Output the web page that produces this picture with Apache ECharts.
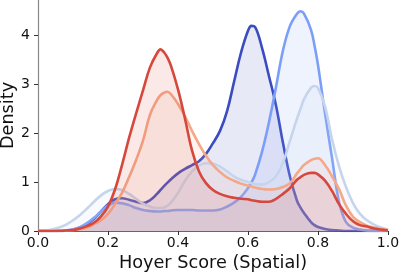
<!DOCTYPE html>
<html><head><meta charset="utf-8">
<script src="https://cdn.jsdelivr.net/npm/echarts@6/dist/echarts.min.js"></script>
<style>html,body{margin:0;padding:0;background:#fff}#c{width:399px;height:274px}</style>
</head><body><div id="c"></div>
<script>
const xs = [0,0.02,0.04,0.06,0.08,0.10,0.12,0.14,0.16,0.18,0.20,0.22,0.24,0.26,0.28,0.30,0.32,0.34,0.35,0.36,0.37,0.38,0.40,0.42,0.44,0.46,0.48,0.50,0.52,0.54,0.56,0.58,0.60,0.61,0.62,0.64,0.66,0.68,0.70,0.72,0.74,0.75,0.76,0.78,0.79,0.80,0.82,0.84,0.86,0.88,0.90,0.92,0.94,0.96,0.98,1.0];
const darkBlue  = [0,0,0,0,0.01,0.03,0.07,0.14,0.25,0.40,0.55,0.65,0.67,0.64,0.60,0.57,0.63,0.76,0.84,0.92,0.99,1.06,1.18,1.27,1.35,1.43,1.58,1.80,2.05,2.45,3.05,3.65,4.10,4.20,4.18,3.75,3.17,2.57,1.80,1.11,0.62,0.48,0.37,0.18,0.12,0.08,0.04,0.02,0.01,0,0,0,0,0,0,0];
const midBlue   = [0,0,0,0.005,0.01,0.03,0.08,0.16,0.27,0.40,0.52,0.58,0.57,0.53,0.47,0.43,0.41,0.40,0.40,0.41,0.41,0.42,0.43,0.43,0.43,0.42,0.42,0.42,0.44,0.50,0.58,0.70,0.88,1.00,1.15,1.62,2.23,2.95,3.70,4.20,4.45,4.50,4.45,4.12,3.80,3.40,2.41,1.50,0.60,0.18,0.07,0.03,0.01,0,0,0];
const lightBlue = [0,0.01,0.03,0.07,0.13,0.22,0.33,0.46,0.60,0.73,0.82,0.86,0.84,0.76,0.66,0.56,0.50,0.47,0.47,0.48,0.52,0.58,0.78,1.03,1.22,1.34,1.39,1.38,1.32,1.22,1.12,1.05,1.00,0.98,0.96,0.95,1.00,1.12,1.40,1.85,2.30,2.50,2.70,2.93,2.97,2.93,2.55,1.88,1.33,0.90,0.57,0.35,0.22,0.13,0.07,0.03];
const salmon    = [0,0,0,0.005,0.01,0.02,0.04,0.07,0.14,0.22,0.35,0.55,0.78,1.10,1.45,1.85,2.38,2.68,2.78,2.83,2.85,2.80,2.60,2.35,2.05,1.78,1.54,1.35,1.21,1.10,1.03,0.97,0.93,0.91,0.89,0.86,0.85,0.86,0.90,0.98,1.18,1.27,1.35,1.45,1.48,1.49,1.35,1.12,0.86,0.52,0.29,0.18,0.11,0.07,0.04,0.02];
const red       = [0,0,0,0,0.01,0.02,0.05,0.10,0.17,0.30,0.50,0.85,1.35,1.90,2.40,2.88,3.35,3.64,3.72,3.66,3.55,3.38,2.90,2.30,1.65,1.22,0.98,0.84,0.76,0.71,0.68,0.66,0.65,0.63,0.62,0.60,0.60,0.66,0.76,0.88,1.05,1.10,1.15,1.19,1.19,1.16,1.03,0.82,0.55,0.35,0.20,0.12,0.09,0.05,0.03,0.01];
const xTicks = [0,0.2,0.4,0.6,0.8,1.0];
const yTicks = [0,1,2,3,4];
const names = ['A','B','C','D','E'];
const colors = ['#3b4cc0','#7b9ef8','#c6d5ec','#f5a888','#d6483c'];
const allSeries = [darkBlue, midBlue, lightBlue, salmon, red];

const chart = echarts.init(document.getElementById('c'), null, {renderer:'canvas'});
const font = 'DejaVu Sans';
chart.setOption({
  animation:false,
  grid:{left:38,right:11,top:0,bottom:43,containLabel:false,outerBoundsMode:'none'},
  xAxis:{type:'value',min:0,max:1,interval:0.2,
    name:'Hoyer Score (Spatial)',nameLocation:'middle',nameGap:23,nameMoveOverlap:false,
    nameTextStyle:{fontFamily:font,fontSize:17.7,color:'#111'},
    axisLine:{show:true,lineStyle:{color:'#666',width:1}},
    axisTick:{show:true,length:4,lineStyle:{color:'#333'},customValues:xTicks},
    axisLabel:{fontFamily:font,fontSize:14,color:'#111',margin:5,customValues:xTicks,formatter:v=>v.toFixed(1)},
    splitLine:{show:false}},
  yAxis:{type:'value',min:0,max:4.73,interval:1,
    name:'Density',nameLocation:'middle',nameGap:21,nameMoveOverlap:false,
    nameTextStyle:{fontFamily:font,fontSize:17.7,color:'#111'},
    axisLine:{show:true,lineStyle:{color:'#888',width:1.2}},
    axisTick:{show:true,length:4,lineStyle:{color:'#333'},customValues:yTicks},
    axisLabel:{fontFamily:font,fontSize:14,color:'#111',margin:8,customValues:yTicks,formatter:v=>String(v)},
    splitLine:{show:false}},
  series: allSeries.map((arr,i)=>({
    name:names[i],type:'line',smooth:0.4,showSymbol:false,
    data: xs.map((x,j)=>[x,arr[j]]),
    lineStyle:{color:colors[i],width:2.6},
    itemStyle:{color:colors[i]},
    areaStyle:{color:colors[i],opacity:0.12},
    z:2+i
  }))
});
</script></body></html>
